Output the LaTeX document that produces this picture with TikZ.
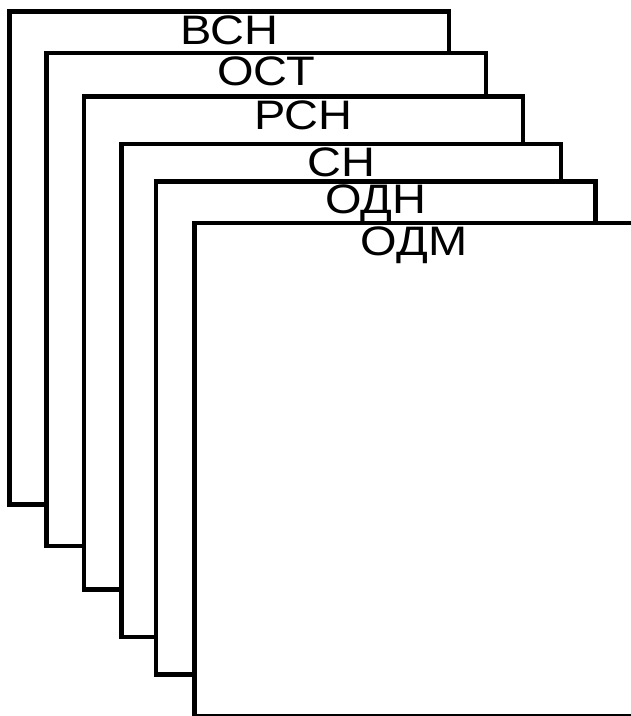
\documentclass[tikz,border=0pt]{standalone}
\usepackage{fontspec}
\setmainfont{Liberation Sans}[FakeStretch=1.14]
\usetikzlibrary{positioning}

\begin{document}
\begin{tikzpicture}[x=1pt, y=-1pt]
        % 定義每張紙與標題的樣式
        \tikzstyle{sheet} = [rectangle, anchor=north west, minimum width=439.3pt, minimum height=493pt, inner sep=0pt, outer sep=0pt, draw=black, line width=4.5pt, fill=white]
        \tikzstyle{sheetlabel} = [anchor=north, inner xsep=0pt, inner ysep=3.6pt, outer sep=0pt, font=\fontsize{41.2}{49}\selectfont]

        \useasboundingbox (0,0) rectangle (631,716);

        % 第一張: ВСН
        \node (vsn) [sheet] at (9.7,11.7) {};
        \node (vsnlabel) [sheetlabel] at (vsn.north) {ВСН};

        % 第二張: ОСТ
        \node (ost) [sheet] at (46.5,52.8) {};
        \node (ostlabel) [sheetlabel] at (ost.north) {ОСТ};

        % 第三張: РСН
        \node (rsn) [sheet] at (83.8,96.7) {};
        \node (rsnlabel) [sheetlabel] at (rsn.north) {РСН};

        % 第四張: СН
        \node (sn) [sheet] at (121.7,143.8) {};
        \node (snlabel) [sheetlabel] at (sn.north) {СН};

        % 第五張: ОДН
        \node (odn) [sheet] at (156.2,181.3) {};
        \node (odnlabel) [sheetlabel] at (odn.north) {ОДН};

        % 第六張: ОДМ
        \node (odm) [sheet] at (194.5,222.8) {};
        \node (odmlabel) [sheetlabel] at (odm.north) {ОДМ};

    \end{tikzpicture}
\end{document}
